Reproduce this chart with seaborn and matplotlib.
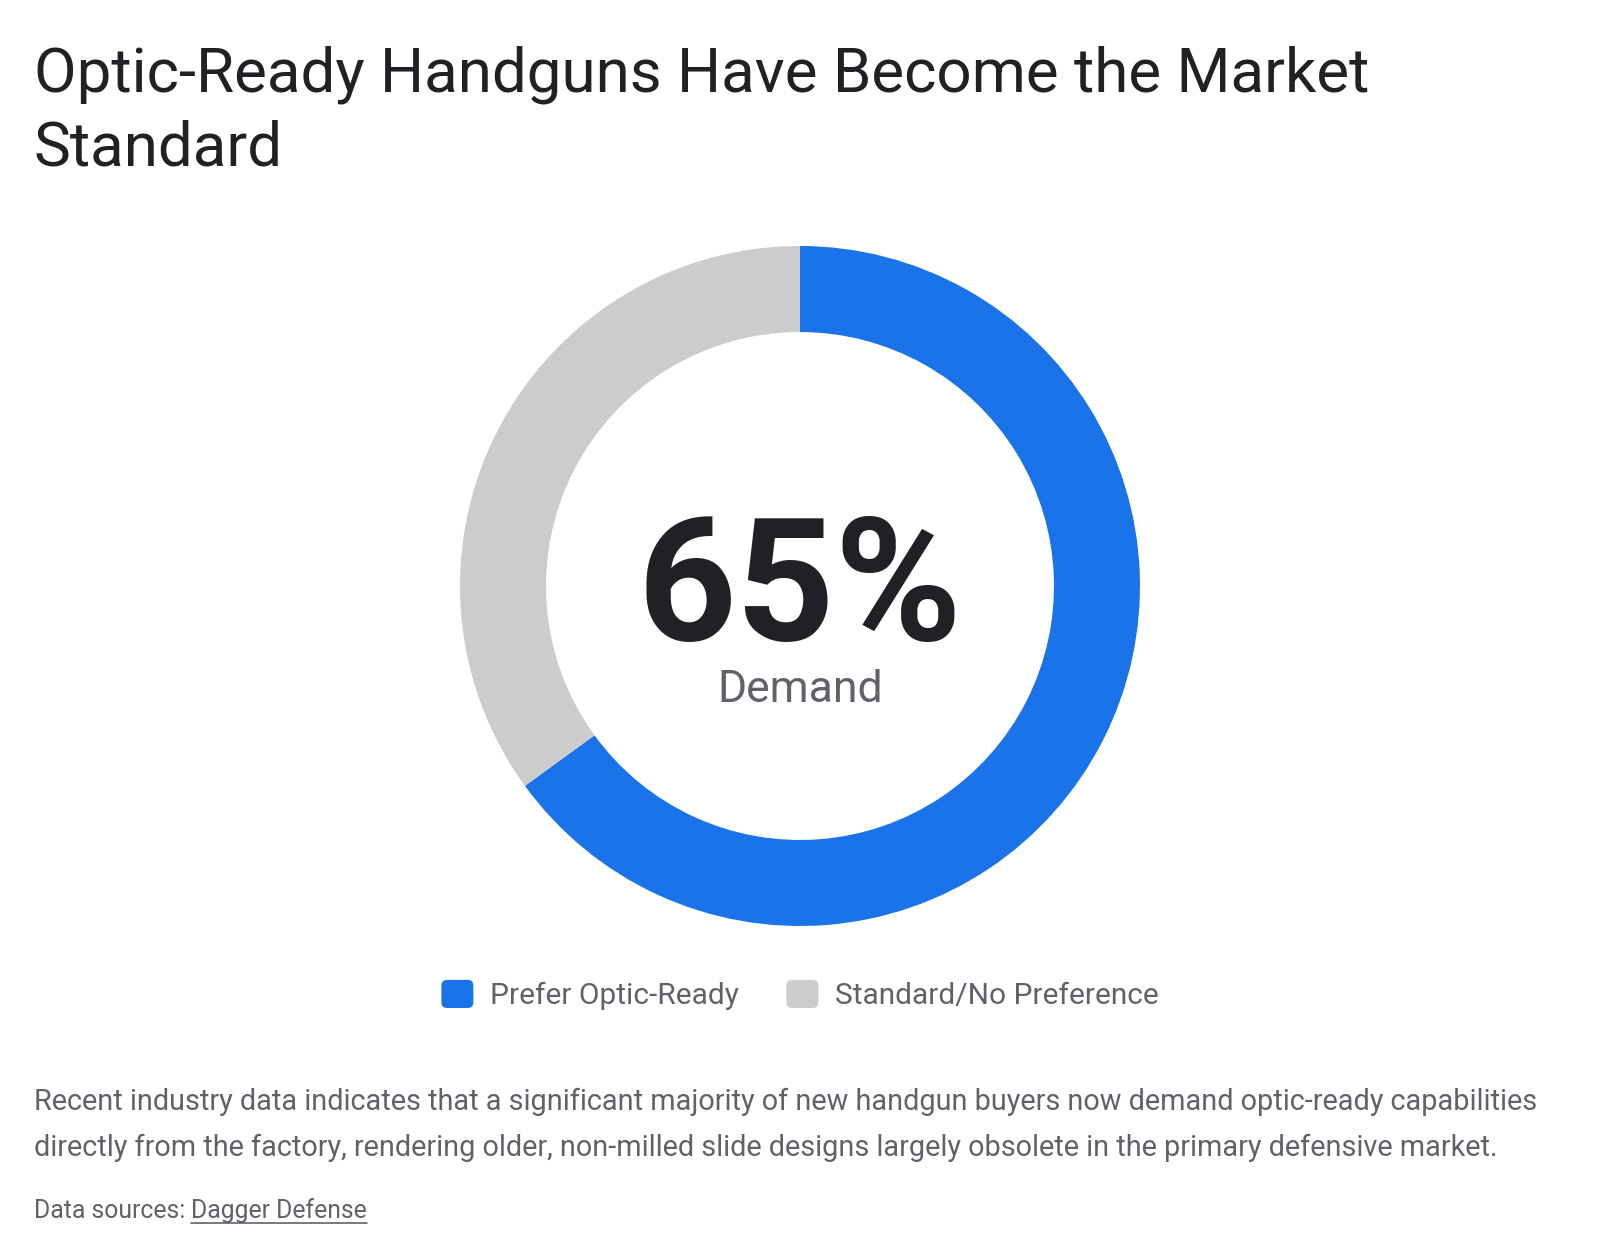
import matplotlib
matplotlib.use("Agg")
import matplotlib.pyplot as plt
import seaborn as sns
from matplotlib.patches import Patch, FancyBboxPatch
from matplotlib.legend_handler import HandlerPatch

# data
labels = ["Prefer Optic-Ready", "Standard/No Preference"]
values = [65, 35]
colors = ["#1a73e8", "#cccccc"]
center_value = "65%"
center_label = "Demand"

title_lines = ["Optic-Ready Handguns Have Become the Market", "Standard"]
body_lines = [
    "Recent industry data indicates that a significant majority of new handgun buyers now demand optic-ready capabilities",
    "directly from the factory, rendering older, non-milled slide designs largely obsolete in the primary defensive market.",
]

sns.set_theme(style="white")
plt.rcParams['font.family'] = ['Roboto', 'DejaVu Sans']

W, H = 1600, 1258
fig = plt.figure(figsize=(W / 100, H / 100), dpi=100)
fig.patch.set_facecolor("white")

def fx(x):
    return x / W

def fy(y):
    return 1 - y / H

# donut: center (800, 586), outer radius 340 px
ax = fig.add_axes([fx(460), fy(926), 680 / W, 680 / H])
ax.pie(values, colors=colors, startangle=90, counterclock=False,
       wedgeprops=dict(width=0.253, edgecolor="none"))
ax.set_xlim(-1, 1)
ax.set_ylim(-1, 1)
ax.set_aspect("equal")
ax.axis("off")

ax.text(0, -0.158, center_value, ha="center", va="baseline", fontsize=124,
        fontweight="bold", color="#202124")
ax.text(0, -0.342, center_label, ha="center", va="baseline", fontsize=32,
        color="#5f6368")

# title
for i, line in enumerate(title_lines):
    fig.text(fx(34), fy(92 + 73 * i), line, ha="left", va="baseline", fontsize=44.6,
             color="#202124")


# rounded legend squares
class RoundBoxHandler(HandlerPatch):
    def create_artists(self, legend, orig_handle, xdescent, ydescent,
                       width, height, fontsize, trans):
        p = FancyBboxPatch((-xdescent, -ydescent), width, height,
                           boxstyle="round,pad=0,rounding_size=%f" % (height * 0.2),
                           facecolor=orig_handle.get_facecolor(), edgecolor="none",
                           transform=trans)
        return [p]


handles = [Patch(facecolor=c, edgecolor="none", label=l) for c, l in zip(colors, labels)]
fig.legend(handles=handles, loc="center", bbox_to_anchor=(fx(800), fy(995)),
           ncol=2, frameon=False, fontsize=21.5, handlelength=1.07, handleheight=1.07,
           handletextpad=0.55, columnspacing=1.6, labelcolor="#5f6368",
           handler_map={Patch: RoundBoxHandler()})

# body text
for i, line in enumerate(body_lines):
    fig.text(fx(34), fy(1110 + 46 * i), line, ha="left", va="baseline", fontsize=20.8,
             color="#5f6368")

t = fig.text(fx(34), fy(1218), "Data sources: ", ha="left", va="baseline",
             fontsize=17.8, color="#5f6368")
fig.canvas.draw()
bb = t.get_window_extent()
src = fig.text(bb.x1 / W, fy(1218), "Dagger Defense", ha="left", va="baseline",
               fontsize=17.8, color="#5f6368")
fig.canvas.draw()
sb = src.get_window_extent()
fig.add_artist(plt.Line2D([sb.x0 / W, sb.x1 / W], [fy(1223), fy(1223)],
                          color="#5f6368", lw=1.2, transform=fig.transFigure))

fig.savefig("out.png", dpi=100, facecolor="white")
